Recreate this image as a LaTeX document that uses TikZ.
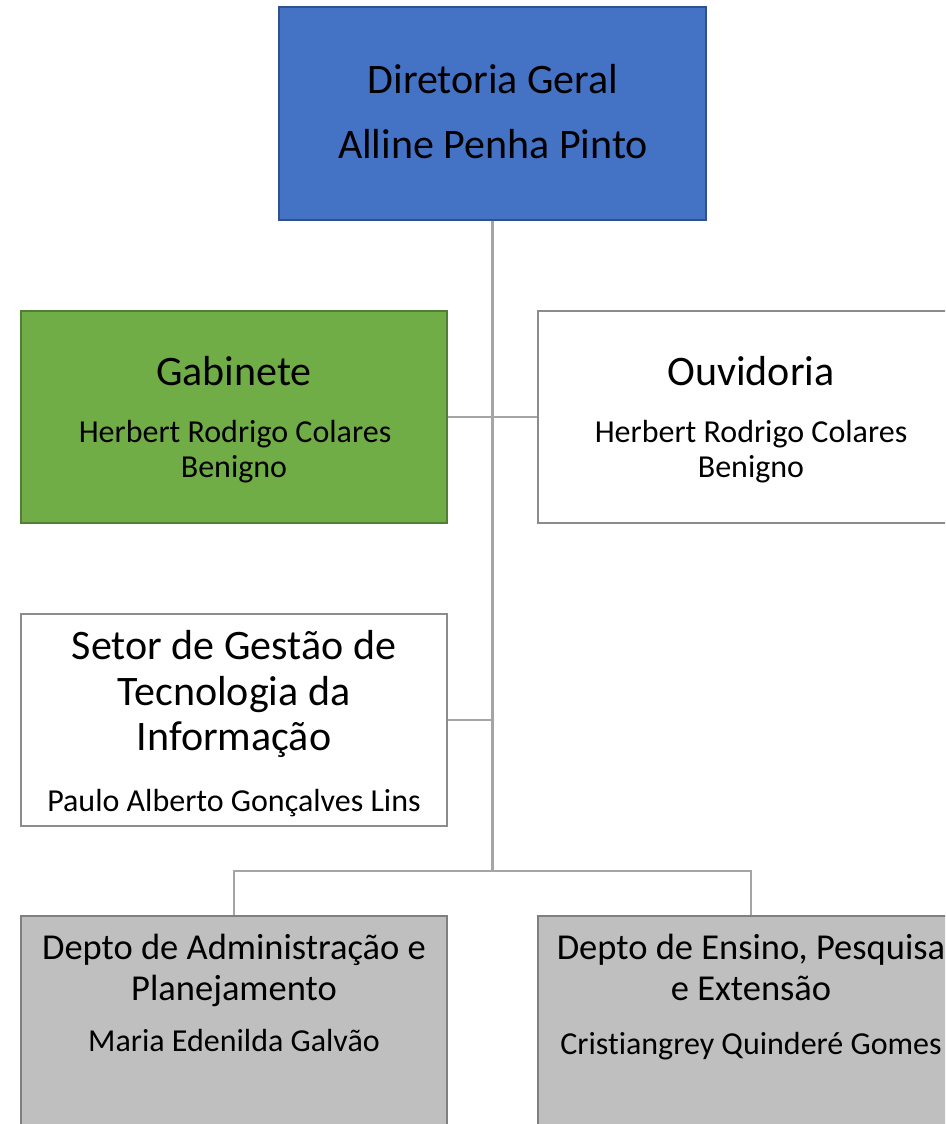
\documentclass[tikz,border=0pt]{standalone}
\usepackage{fontspec}
\setmainfont{Carlito}[Ligatures=NoCommon]
\definecolor{dgblue}{HTML}{4472C4}
\definecolor{dgblueb}{HTML}{2F528F}
\definecolor{gabgreen}{HTML}{70AD47}
\definecolor{gabgreenb}{HTML}{507E32}
\definecolor{deptgray}{HTML}{BFBFBF}
\definecolor{deptgrayb}{HTML}{7F7F7F}
\definecolor{boxb}{HTML}{8C8C8C}
\definecolor{connc}{HTML}{A5A5A5}
\tikzset{
  orgbox/.style={rectangle, draw=boxb, line width=1.2pt, fill=white, inner sep=0pt, minimum width=426pt, minimum height=212pt},
  bluebox/.style={orgbox, fill=dgblue, draw=dgblueb, minimum width=427pt, minimum height=213pt},
  greenbox/.style={orgbox, fill=gabgreen, draw=gabgreenb},
  graybox/.style={orgbox, fill=deptgray, draw=deptgrayb},
  conn/.style={draw=connc, line width=2.6pt},
  ttl/.style={anchor=base, inner sep=0pt, font=\fontsize{42}{50}\selectfont},
  dttl/.style={anchor=base, inner sep=0pt, font=\fontsize{36.5}{44}\selectfont},
  nme/.style={anchor=base, inner sep=0pt, font=\fontsize{32}{38}\selectfont}
}
\begin{document}
\begin{tikzpicture}[x=1pt,y=-1pt]
\useasboundingbox (0,0) rectangle (945,1124);
\clip (0,0) rectangle (945,1124);
% boxes
\node[bluebox] (dg) at (492.5,113.5) {};
\node[greenbox] (gab) at (234,417) {};
\node[orgbox] (ouv) at (751,417) {};
\node[orgbox] (setor) at (234,720) {};
\node[graybox] (adm) at (234,1022) {};
\node[graybox] (ens) at (751,1022) {};
% connectors
\coordinate (jb) at (492.5,871);
\draw[conn] (dg.south) -- (jb);
\draw[conn] (gab.east) -- (ouv.west);
\draw[conn] (setor.east) -- (setor.east -| jb);
\draw[conn] (adm.north) |- (jb) -| (ens.north);
% texts
\node[ttl] (dg1) at (493,93) {Diretoria Geral};
\node[ttl] (dg2) at (493,158) {Alline Penha Pinto};
\node[ttl] (gab1) at (234,385) {Gabinete};
\node[nme] (gab2) at (235,442) {Herbert Rodrigo Colares};
\node[nme] (gab3) at (234,477) {Benigno};
\node[ttl] (ouv1) at (751,385) {Ouvidoria};
\node[nme] (ouv2) at (751,442) {Herbert Rodrigo Colares};
\node[nme] (ouv3) at (751,477) {Benigno};
\node[ttl] (set1) at (234,659) {Setor de Gestão de};
\node[ttl] (set2) at (234,705) {Tecnologia da};
\node[ttl] (set3) at (234,750) {Informação};
\node[nme] (set4) at (234,811) {Paulo Alberto Gonçalves Lins};
\node[dttl] (adm1) at (234,959) {Depto de Administração e};
\node[dttl] (adm2) at (234,1000) {Planejamento};
\node[nme] (adm3) at (234,1051) {Maria Edenilda Galvão};
\node[dttl] (ens1) at (751,959) {Depto de Ensino, Pesquisa};
\node[dttl] (ens2) at (751,1000) {e Extensão};
\node[nme] (ens3) at (751,1054) {Cristiangrey Quinderé Gomes};
\end{tikzpicture}
\end{document}
